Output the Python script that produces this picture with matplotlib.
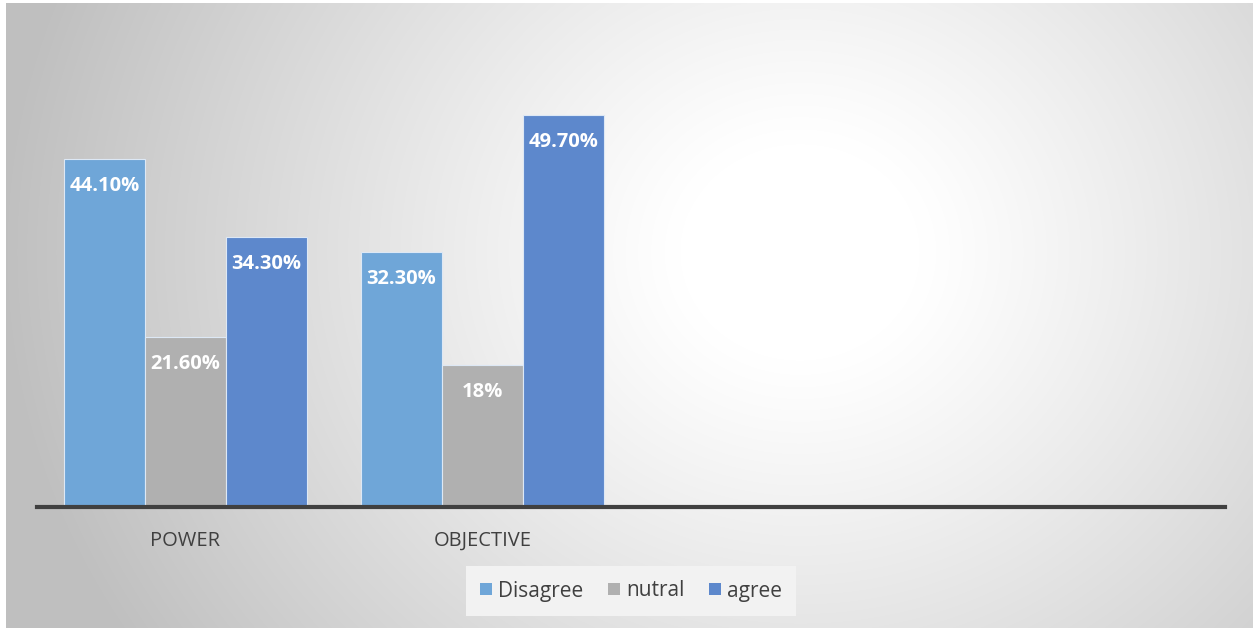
import numpy as np
import matplotlib
matplotlib.use("Agg")
import matplotlib.pyplot as plt
from matplotlib.patches import Patch

plt.rcParams['font.family'] = ['Open Sans', 'DejaVu Sans']

# Data
categories = ["POWER", "OBJECTIVE", "", ""]
series_names = ["Disagree", "nutral", "agree"]
disagree = [44.1, 32.3]
nutral = [21.6, 18.0]
agree = [34.3, 49.7]
labels = [["44.10%", "32.30%"], ["21.60%", "18%"], ["34.30%", "49.70%"]]
colors = ["#6fa6d8", "#b0b0b0", "#5d88cc"]

W, H = 1253, 628
fig = plt.figure(figsize=(W / 100, H / 100), dpi=100)
fig.patch.set_facecolor("white")

# radial gradient background
bg = fig.add_axes([6 / W, 0, 1 - 6 / W, 1 - 3 / H])
bg.set_axis_off()
yy, xx = np.mgrid[0:H, 6:W]
r = np.hypot(xx - 800, (yy - 250) * 1.1)
v = 1 - 0.25 * np.clip((r - 120) / 680, 0, 1) ** 1.1
bg.imshow(np.dstack([v, v, v]), aspect="auto", extent=[0, 1, 0, 1], origin="upper")
bg.set_xlim(0, 1)
bg.set_ylim(0, 1)

ax = fig.add_axes([37 / W, 1 - 507 / H, (1225 - 37) / W, (507 - 34) / H])
ax.patch.set_alpha(0)

x = np.arange(len(categories))
width = 0.273
data = [disagree, nutral, agree]
for i, (vals, c) in enumerate(zip(data, colors)):
    xs = x[:len(vals)] + (i - 1) * width
    bars = ax.bar(xs, vals, width, color=c, edgecolor="#dde8f5", linewidth=0.8, zorder=2)
    for b, lab in zip(bars, labels[i]):
        ax.annotate(lab, (b.get_x() + b.get_width() / 2, b.get_height()),
                    xytext=(0, -27), textcoords="offset pixels",
                    ha="center", va="center", color="white", fontsize=14.5, fontweight="bold")

ax.set_xlim(-0.5, len(categories) - 0.5)
ax.set_ylim(0, 60)
ax.set_yticks([])
ax.set_xticks(x)
ax.set_xticklabels(categories, fontsize=14.5, color="#404040")
ax.tick_params(axis="x", length=0, pad=17)
for s in ["top", "right", "left"]:
    ax.spines[s].set_visible(False)
ax.spines["bottom"].set_color("#404040")
ax.spines["bottom"].set_linewidth(3)

handles = [Patch(facecolor=c, edgecolor="none", label=n) for c, n in zip(colors, series_names)]
leg = fig.legend(handles=handles, loc="center", bbox_to_anchor=(631 / W, 1 - 591 / H),
                 ncol=3, frameon=True, fontsize=15, handlelength=0.55, handleheight=0.55,
                 handletextpad=0.3, columnspacing=1.2, borderpad=0.5)
leg.get_frame().set_facecolor("#f2f2f2")
leg.get_frame().set_edgecolor("none")
leg.get_frame().set_alpha(1)
leg.get_frame().set_boxstyle("square", pad=0.2)
for t in leg.get_texts():
    t.set_color("#404040")

fig.savefig("out.png", dpi=100)
